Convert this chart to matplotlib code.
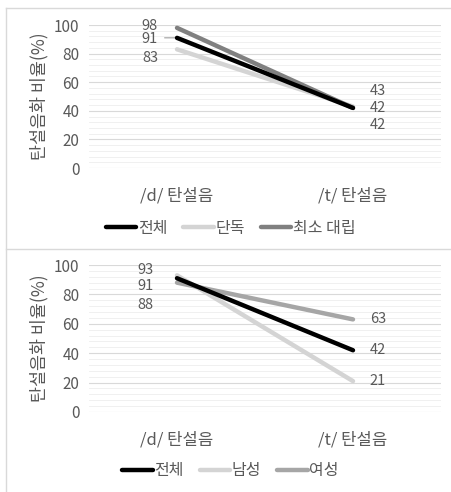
import matplotlib

matplotlib.use("Agg")
import matplotlib.pyplot as plt
from matplotlib.lines import Line2D
from matplotlib.ticker import MultipleLocator

plt.rcParams["font.family"] = ["Noto Sans CJK KR", "DejaVu Sans"]

categories = ["/d/ 탄설음", "/t/ 탄설음"]

# upper panel: by stimulus type
top_names = ["전체", "단독", "최소 대립"]
top_total = [91, 42]
top_single = [83, 43]
top_minimal = [98, 42]
top_colors = ["#000000", "#d4d4d4", "#808080"]

# lower panel: by gender
bot_names = ["전체", "남성", "여성"]
bot_total = [91, 42]
bot_male = [93, 21]
bot_female = [88, 63]
bot_colors = ["#000000", "#d4d4d4", "#a6a6a6"]

# label nudges in points (left label dy, right label dy)
top_nudge = [(-0.5, 0), (-6.5, 11.5), (1.5, -12)]
bot_nudge = [(-5.8, 0), (3.8, 0), (-16, 0)]

TXT = "#595959"
GRID = "#d9d9d9"
MINOR = "#eeeeee"

fig = plt.figure(figsize=(4.52, 4.92), dpi=100)
fig.patch.set_facecolor("white")


def panel(rect, series, names, colors, nudge, left_dx, legend_y):
    ax = fig.add_axes(rect)
    x = range(len(categories))
    lines = {}
    for i in [1, 2, 0]:
        ln, = ax.plot(x, series[i], color=colors[i], lw=3.2,
                      solid_capstyle="round", zorder=3 + (i == 0))
        lines[i] = ln
    for i, vals in enumerate(series):
        dyl, dyr = nudge[i]
        ax.annotate(str(vals[0]), (0, vals[0]), xytext=(left_dx, dyl),
                    textcoords="offset points", ha="center", va="center",
                    color=TXT, fontsize=10.5)
        ax.annotate(str(vals[1]), (1, vals[1]), xytext=(18, dyr),
                    textcoords="offset points", ha="center", va="center",
                    color=TXT, fontsize=10.5)
    ax.set_xlim(-0.5, 1.5)
    ax.set_ylim(0, 100)
    ax.set_xticks(list(x))
    ax.set_xticklabels(categories, fontsize=12, color=TXT)
    ax.yaxis.set_major_locator(MultipleLocator(20))
    ax.yaxis.set_minor_locator(MultipleLocator(4))
    ax.tick_params(axis="both", length=0, which="both")
    ax.tick_params(axis="y", labelsize=11, labelcolor=TXT, pad=7)
    ax.tick_params(axis="x", pad=14)
    ax.grid(axis="y", which="major", color=GRID, lw=0.8)
    ax.grid(axis="y", which="minor", color=MINOR, lw=0.6)
    ax.set_axisbelow(True)
    for s in ax.spines.values():
        s.set_visible(False)
    ax.set_ylabel("탄설음화 비율(%)", fontsize=12.5, color=TXT, labelpad=4)
    handles = [lines[0], lines[1], lines[2]]
    fig.legend(handles, names, loc="center", bbox_to_anchor=(0.51, legend_y),
               ncol=3, frameon=False, fontsize=11.5, labelcolor=TXT,
               handlelength=1.9, handletextpad=0.1, columnspacing=1.0)
    return ax


ax1 = panel([89 / 452, 1 - 168 / 492, 352 / 452, 143 / 492],
            [top_total, top_single, top_minimal], top_names, top_colors,
            top_nudge, -19.5, 1 - 228 / 492)
# leader line from the 91 label to its point
ax1.annotate("", (0, top_total[0]), xytext=(-9, 0), textcoords="offset points",
             arrowprops=dict(arrowstyle="-", color="#7f7f7f", lw=0.6,
                             shrinkA=0, shrinkB=0))

panel([89 / 452, 1 - 412 / 492, 352 / 452, 147 / 492],
      [bot_total, bot_male, bot_female], bot_names, bot_colors,
      bot_nudge, -23, 1 - 471 / 492)

# outline of the two stacked chart panels
for xs, ys in [((6 / 452, 1), (1 - 8 / 492, 1 - 8 / 492)),
               ((6 / 452, 6 / 452), (1 - 8 / 492, 0)),
               ((6 / 452, 1), (1 - 249 / 492, 1 - 249 / 492))]:
    fig.add_artist(Line2D(xs, ys, color="#d9d9d9", lw=1.0))

fig.savefig("out.png", dpi=100, facecolor="white")
